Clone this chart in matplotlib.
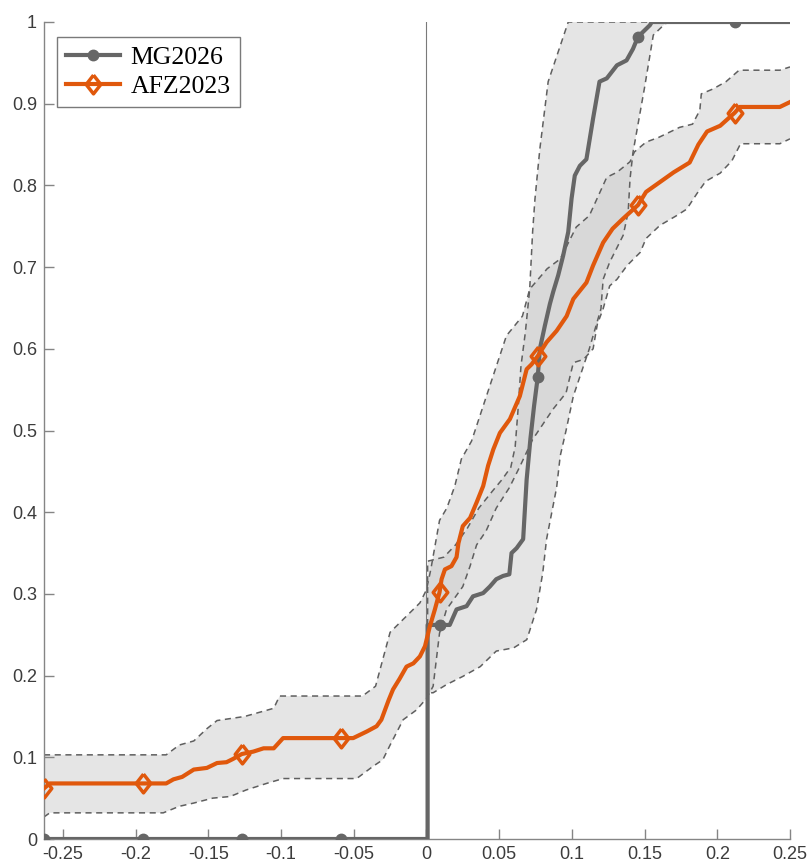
import numpy as np
import matplotlib
matplotlib.use("Agg")
import matplotlib.pyplot as plt

# ---------------- data ----------------
marker_x = [-0.263, -0.195, -0.127, -0.059, 0.009, 0.0765, 0.1455, 0.212]

mg_x = [-0.263, -0.195, -0.127, -0.059, 0.0008, 0.0008, 0.009, 0.016, 0.0207, 0.0276,
        0.032, 0.039, 0.0436, 0.048, 0.0527, 0.057, 0.0585, 0.062, 0.0665, 0.0689,
        0.0715, 0.074, 0.0765, 0.078, 0.0814, 0.0849, 0.0872, 0.0906, 0.094, 0.0975,
        0.0998, 0.102, 0.1055, 0.110, 0.1146, 0.119, 0.124, 0.131, 0.1376, 0.142,
        0.1455, 0.149, 0.1536, 0.155, 0.212, 0.25]
mg_y = [0, 0, 0, 0, 0, 0.262, 0.262, 0.262, 0.281, 0.285,
        0.297, 0.301, 0.309, 0.318, 0.322, 0.324, 0.350, 0.356, 0.367, 0.44,
        0.49, 0.53, 0.565, 0.60, 0.628, 0.655, 0.67, 0.690, 0.714, 0.743,
        0.784, 0.812, 0.824, 0.832, 0.882, 0.927, 0.931, 0.947, 0.953, 0.967,
        0.982, 0.988, 0.996, 1.0, 1.0, 1.0]

mg_lo_x = [0.0008, 0.0008, 0.0046, 0.0138, 0.025, 0.037, 0.048, 0.06, 0.069, 0.0757,
           0.080, 0.0826, 0.0895, 0.092, 0.096, 0.101, 0.108, 0.112, 0.120, 0.1215,
           0.126, 0.1353, 0.1387, 0.140, 0.142, 0.150, 0.156, 0.163, 0.166, 0.25]
mg_lo_y = [0, 0.179, 0.179, 0.189, 0.199, 0.211, 0.230, 0.234, 0.244, 0.281,
           0.326, 0.367, 0.43, 0.469, 0.50, 0.542, 0.579, 0.60, 0.649, 0.685,
           0.706, 0.739, 0.767, 0.808, 0.84, 0.92, 0.984, 0.996, 1.0, 1.0]
mg_up_x = [0.0008, 0.0008, 0.012, 0.02, 0.028, 0.036, 0.045, 0.052, 0.058,
           0.061, 0.063, 0.065, 0.068, 0.071, 0.073, 0.0746, 0.078, 0.0837, 0.0975, 0.25]
mg_up_y = [0, 0.34, 0.345, 0.36, 0.38, 0.405, 0.425, 0.44, 0.455,
           0.48, 0.526, 0.579, 0.62, 0.673, 0.743, 0.783, 0.845, 0.927, 1.0, 1.0]

afz_x = [-0.263, -0.259, -0.195, -0.179, -0.174, -0.168, -0.160, -0.151, -0.144, -0.1375,
         -0.133, -0.127, -0.119, -0.112, -0.105, -0.0986, -0.059, -0.0504, -0.041, -0.0343,
         -0.031, -0.026, -0.023, -0.0185, -0.0137, -0.009, -0.0045, -0.001, 0.0023, 0.0058,
         0.009, 0.0104, 0.0127, 0.0172, 0.0207, 0.022, 0.025, 0.030, 0.0345, 0.039,
         0.0424, 0.046, 0.0505, 0.0574, 0.0642, 0.0689, 0.0723, 0.0765, 0.0826, 0.0895,
         0.0964, 0.101, 0.110, 0.1146, 0.1215, 0.128, 0.135, 0.1455, 0.151, 0.1605,
         0.170, 0.181, 0.187, 0.193, 0.202, 0.212, 0.2155, 0.243, 0.25]
afz_y = [0.062, 0.068, 0.068, 0.068, 0.073, 0.076, 0.085, 0.087, 0.093, 0.094,
         0.098, 0.104, 0.107, 0.111, 0.111, 0.1235, 0.1235, 0.1235, 0.1316, 0.138,
         0.146, 0.170, 0.183, 0.196, 0.211, 0.215, 0.2235, 0.236, 0.260, 0.281,
         0.302, 0.318, 0.330, 0.334, 0.345, 0.362, 0.383, 0.393, 0.412, 0.432,
         0.457, 0.477, 0.497, 0.514, 0.542, 0.575, 0.581, 0.591, 0.608, 0.622,
         0.640, 0.661, 0.681, 0.702, 0.730, 0.747, 0.759, 0.776, 0.792, 0.804,
         0.816, 0.828, 0.850, 0.866, 0.873, 0.889, 0.896, 0.896, 0.902]

afz_lo_x = [-0.263, -0.259, -0.181, -0.170, -0.160, -0.147, -0.135, -0.124, -0.110, -0.0985,
            -0.048, -0.0367, -0.030, -0.025, -0.016, -0.0068, 0.0, 0.0046, 0.009, 0.0138,
            0.025, 0.030, 0.0345, 0.041, 0.048, 0.057, 0.064, 0.073, 0.087, 0.096,
            0.101, 0.108, 0.1146, 0.1175, 0.1215, 0.126, 0.131, 0.138, 0.147, 0.151,
            0.1605, 0.172, 0.179, 0.186, 0.192, 0.202, 0.21, 0.216, 0.243, 0.25]
afz_lo_y = [0.027, 0.032, 0.032, 0.040, 0.044, 0.050, 0.052, 0.060, 0.068, 0.074,
            0.074, 0.089, 0.097, 0.115, 0.146, 0.158, 0.172, 0.187, 0.252, 0.281,
            0.309, 0.334, 0.36, 0.377, 0.405, 0.43, 0.455, 0.489, 0.526, 0.546,
            0.583, 0.587, 0.60, 0.63, 0.649, 0.677, 0.685, 0.702, 0.718, 0.735,
            0.751, 0.763, 0.771, 0.79, 0.805, 0.815, 0.83, 0.851, 0.851, 0.857]
afz_up_x = [-0.263, -0.179, -0.170, -0.160, -0.151, -0.144, -0.125, -0.105, -0.101, -0.044,
            -0.035, -0.025, -0.0045, 0.0, 0.003, 0.009, 0.014, 0.0195, 0.024, 0.031,
            0.055, 0.066, 0.071, 0.083, 0.092, 0.103, 0.112, 0.124, 0.131, 0.140,
            0.143, 0.151, 0.160, 0.174, 0.183, 0.188, 0.189, 0.197, 0.206, 0.215,
            0.243, 0.25]
afz_up_y = [0.103, 0.103, 0.115, 0.12, 0.135, 0.145, 0.15, 0.16, 0.175, 0.175,
            0.187, 0.253, 0.289, 0.305, 0.33, 0.39, 0.405, 0.432, 0.465, 0.487,
            0.616, 0.640, 0.673, 0.698, 0.710, 0.749, 0.763, 0.810, 0.816, 0.829,
            0.841, 0.853, 0.859, 0.871, 0.875, 0.892, 0.912, 0.918, 0.927, 0.941,
            0.941, 0.945]

xticks = [-0.25, -0.2, -0.15, -0.1, -0.05, 0, 0.05, 0.1, 0.15, 0.2, 0.25]
xticklabels = ['-0.25', '-0.2', '-0.15', '-0.1', '-0.05', '0', '0.05', '0.1', '0.15', '0.2', '0.25']
yticks = [0, 0.1, 0.2, 0.3, 0.4, 0.5, 0.6, 0.7, 0.8, 0.9, 1]
yticklabels = ['0', '0.1', '0.2', '0.3', '0.4', '0.5', '0.6', '0.7', '0.8', '0.9', '1']

labels = ['MG2026', 'AFZ2023']

# ---------------- style ----------------
GREY = '#666666'
ORANGE = '#e0580c'
BAND = (0.80, 0.80, 0.80)
EDGE = '#5f5f5f'
AXC = '#858585'
DIAMOND = [(0, 1), (0.78, 0), (0, -1), (-0.78, 0), (0, 1)]

plt.rcParams['font.family'] = ['Liberation Sans', 'DejaVu Sans']

fig = plt.figure(figsize=(8.1, 8.65), dpi=100)
ax = fig.add_axes([44 / 810, 1 - 839 / 865, 746 / 810, 817 / 865])


def band(xlo, ylo, xup, yup):
    px = list(xlo) + list(xup)[::-1]
    py = list(ylo) + list(yup)[::-1]
    ax.fill(px, py, color=BAND, alpha=0.5, lw=0, zorder=1)
    ax.plot(xlo, ylo, ls=(0, (4, 3)), color=EDGE, lw=1.1, zorder=2)
    ax.plot(xup, yup, ls=(0, (4, 3)), color=EDGE, lw=1.1, zorder=2)


band(mg_lo_x, mg_lo_y, mg_up_x, mg_up_y)
band(afz_lo_x, afz_lo_y, afz_up_x, afz_up_y)

ax.axvline(0, color='#7a7a7a', lw=0.8, zorder=2.5)


def mk_idx(xs):
    xs = np.asarray(xs)
    return [int(np.argmin(np.abs(xs - m))) for m in marker_x]


l1, = ax.plot(mg_x, mg_y, color=GREY, lw=3, marker='o', ms=7.5,
              mfc=GREY, mec=GREY, markevery=mk_idx(mg_x), zorder=4,
              solid_joinstyle='round', label=labels[0])
l2, = ax.plot(afz_x, afz_y, color=ORANGE, lw=3, marker=DIAMOND, ms=13.5,
              mfc='none', mec=ORANGE, mew=2.5, markevery=mk_idx(afz_x), zorder=5,
              solid_joinstyle='round', label=labels[1])

ax.set_xlim(-0.263, 0.25)
ax.set_ylim(0, 1)
ax.set_xticks(xticks)
ax.set_xticklabels(xticklabels)
ax.set_yticks(yticks)
ax.set_yticklabels(yticklabels)

for s in ['top', 'right']:
    ax.spines[s].set_visible(False)
for s in ['left', 'bottom']:
    ax.spines[s].set_color(AXC)
    ax.spines[s].set_linewidth(1.0)
ax.tick_params(direction='in', length=7, width=1, color=AXC,
               labelcolor='#3c3c3c', labelsize=13, pad=5)

leg = ax.legend(handles=[l1, l2], loc='upper left', bbox_to_anchor=(0.018, 0.982),
                frameon=True, fancybox=False, framealpha=1, edgecolor='#7a7a7a',
                prop={'family': ['Liberation Serif', 'DejaVu Serif'], 'size': 18.5},
                handlelength=2.1, handletextpad=0.4, borderpad=0.35, labelspacing=0.25,
                borderaxespad=0)
leg.get_frame().set_linewidth(1.0)

fig.savefig('out.png', dpi=100)
